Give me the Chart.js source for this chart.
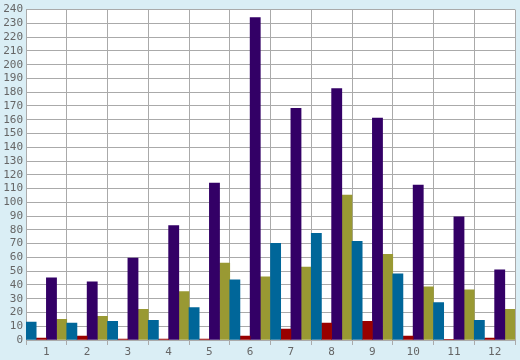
<!DOCTYPE html>
<html>
<head>
<meta charset="utf-8">
<script src="https://cdn.jsdelivr.net/npm/chart.js@4"></script>
<style>
html,body{margin:0;padding:0;background:#daeef5;}
#wrap{width:520px;height:360px;}
</style>
</head>
<body>
<div id="wrap"><canvas id="c" width="520" height="360"></canvas></div>
<script>
const categories = ["1","2","3","4","5","6","7","8","9","10","11","12"];
const seriesBlue   = [13, 12.2, 13.6, 14.3, 23.6, 43.7, 70.2, 77.4, 71.6, 48, 27.2, 14.3];
const seriesRed    = [1.4, 2.9, 0.7, 0.7, 0.7, 2.9, 7.9, 12.2, 13.6, 2.9, 0.4, 1.4];
const seriesPurple = [45.1, 42.3, 59.5, 83.1, 113.9, 234.2, 168.3, 182.7, 161.2, 112.5, 89.5, 50.9];
const seriesOlive  = [15, 17.2, 22.2, 35.1, 55.9, 45.8, 53, 105.3, 62.3, 38.7, 36.5, 22.2];
const yMax = 240;
const yStep = 10;

const plotBg = {
  id: 'plotBg',
  beforeDraw(chart) {
    const {ctx, chartArea: a} = chart;
    ctx.save();
    ctx.fillStyle = '#ffffff';
    ctx.fillRect(a.left, a.top, a.right - a.left, a.bottom - a.top);
    ctx.restore();
  }
};

const tickFont = {family: 'DejaVu Sans Mono', size: 11};
new Chart(document.getElementById('c'), {
  type: 'bar',
  data: {
    labels: categories,
    datasets: [
      {data: seriesBlue, backgroundColor: '#006699'},
      {data: seriesRed, backgroundColor: '#990000'},
      {data: seriesPurple, backgroundColor: '#330066'},
      {data: seriesOlive, backgroundColor: '#999933'}
    ]
  },
  options: {
    responsive: false,
    animation: false,
    devicePixelRatio: 1,
    layout: {padding: {top: 5, right: 5, left: 0, bottom: 0}},
    datasets: {bar: {categoryPercentage: 1, barPercentage: 1, borderWidth: 0}},
    plugins: {legend: {display: false}, tooltip: {enabled: false}},
    scales: {
      x: {
        grid: {color: '#aaaaaa', lineWidth: 1, tickLength: 5, drawTicks: true, offset: true},
        border: {color: '#aaaaaa'},
        ticks: {color: '#666666', font: tickFont, padding: 1, maxRotation: 0, autoSkip: false},
        afterFit(s) { s.height = 20; }
      },
      y: {
        min: 0, max: yMax,
        grid: {color: '#aaaaaa', lineWidth: 1, drawTicks: false},
        border: {color: '#aaaaaa'},
        ticks: {stepSize: yStep, color: '#666666', font: tickFont, padding: 3, autoSkip: false},
        afterFit(s) { s.width = 26; }
      }
    }
  },
  plugins: [plotBg]
});
</script>
</body>
</html>
